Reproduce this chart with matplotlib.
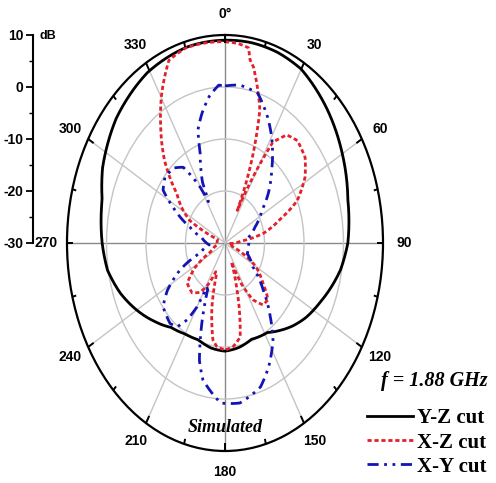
import numpy as np
import matplotlib.pyplot as plt
from matplotlib.ticker import MultipleLocator

# Y-Z cut (black, solid)
yz_theta = [0, 10, 20, 30, 45, 60, 75, 90, 100, 115, 125, 133, 140, 148, 160, 170, 180,
            190, 200, 210, 220, 230, 240, 250, 260, 270, 285, 295, 311, 329, 346, 360]
yz_gain = [9.0, 9.1, 9.0, 8.6, 6.5, 4.3, 2.2, 1.1, -0.3, -3.3, -5.0, -6.6, -8.1, -9.7, -10.3, -9.6, -9.2,
           -9.5, -10.2, -9.8, -8.8, -6.6, -4.2, -1.8, 0.2, 1.1, 2.2, 4.2, 6.5, 8.2, 8.9, 9.0]

# X-Z cut (red, dotted)
xz_theta = [0, 5, 9, 10.2, 12, 19, 23, 25, 26.5, 28, 32, 37, 43, 51, 58, 66, 72, 79, 85, 95, 110,
            120, 128.7, 135, 141, 147, 152, 156, 158, 161.4, 168, 174, 180, 186, 189.3, 195, 200,
            203, 208, 213.8, 221, 231, 238, 245, 260, 275, 290, 296, 302, 308, 316, 324, 331, 338,
            345, 352, 360]
xz_gain = [8.7, 8.5, 8.0, 5.8, 4.6, -2.9, -12.6, -18, -23, -19, -7.2, -4.0, -3.1, -3.9, -6.1, -10, -15.4, -20, -26, -29, -28,
           -21, -17.7, -14.6, -14.7, -17, -21, -26, -24, -20.5, -11.5, -10, -9.4, -10, -11.1, -17.2, -24,
           -24, -21, -18.6, -17.3, -17.7, -21, -26, -28, -28, -28, -20, -17, -14.5, -8, -2.3, 3.0, 7.9,
           8.8, 8.8, 8.7]

# X-Y cut (blue, dash-dot-dot)
xy_theta = [0, 7, 16, 24, 30, 40, 49, 56, 68, 80, 95, 110, 123, 133, 141, 147, 155, 162, 173, 182,
            192, 196, 199, 203, 206, 208.5, 210, 213, 217, 222, 232, 238, 245.5, 253, 265, 280, 289,
            297.7, 303, 310, 318, 324, 329.6, 332, 333, 334, 340, 342.5, 347, 352, 357, 360]
xy_gain = [0.2, 0.6, 0.0, -3.5, -6.4, -11.6, -15.5, -18.7, -21.8, -24, -24, -24, -21.6, -16.8, -11.8, -7.7, -3.8, -0.9, 1.0, 0.8,
           -3.1, -6.5, -11, -16.5, -20, -20.4, -15.8, -12.4, -9.8, -9.2, -10.1, -12.8, -17.5, -23.4, -26, -24, -20.6,
           -15.1, -11.3, -10.2, -10.6, -12, -17.5, -21, -20, -17, -11.6, -7.2, -4.3, -1.5, 0.4, 0.2]

angle_labels = ['0°', '30', '60', '90', '120', '150', '180', '210', '240', '270', '300', '330']
db_ticks = [-30, -20, -10, 0, 10]

red = '#e3202b'
blue = '#1414b4'
grid_c = '#c4c4c4'

fig = plt.figure(figsize=(4.96, 4.83), dpi=100)
W, H = 496, 483
cx, cy, rx, ry = 225, 243, 158, 208

ax = fig.add_axes([(cx - rx) / W, (H - cy - ry) / H, 2 * rx / W, 2 * ry / H], projection='polar')
ax.set_aspect('auto')
ax.set_theta_zero_location('N')
ax.set_theta_direction(-1)
ax.set_rgrids([-20, -10, 0], labels=['', '', ''])
ax.set_thetagrids(range(0, 360, 30), labels=angle_labels,
                  fontsize=10, fontweight='bold', family='Liberation Sans')
ax.tick_params(axis='x', pad=4.5)
ax.grid(True, color=grid_c, linewidth=1.0)
for i, gl in enumerate(ax.xaxis.get_gridlines()):
    if i % 3 == 0:
        gl.set_color('#8a8a8a')
ax.spines['polar'].set_linewidth(1.6)

# tick marks on the outer ring, pointing inward
for t in range(0, 360, 15):
    inner = 8.4 if t % 30 == 0 else 9.0
    ax.plot([np.deg2rad(t)] * 2, [inner, 10], color='black', lw=1.4, solid_capstyle='butt', zorder=3)

curves = [
    (yz_theta, yz_gain, dict(color='black', lw=2.0, label='Y-Z cut')),
    (xz_theta, xz_gain, dict(color=red, lw=2.0, linestyle=(0, (1.5, 1.0)), label='X-Z cut')),
    (xy_theta, xy_gain, dict(color=blue, lw=2.0, linestyle=(0, (4, 2, 1, 2, 1, 2)), label='X-Y cut')),
]
handles = []
for th, g, kw in curves:
    ln, = ax.plot(np.deg2rad(th), g, **kw)
    ln.get_path()._interpolation_steps = 24
    handles.append(ln)

ax.set_rlim(-30, 10)

# separate dB scale on the left
dax = fig.add_axes([33 / W, (H - cy) / H, 0.0001, ry / H])
dax.set_ylim(-30, 10)
dax.set_yticks(db_ticks)
dax.set_yticklabels([str(v) for v in db_ticks], fontsize=10, fontweight='bold', family='Liberation Sans')
dax.yaxis.set_minor_locator(MultipleLocator(5))
dax.tick_params(axis='y', which='major', direction='out', length=5, width=1.3, pad=2)
dax.tick_params(axis='y', which='minor', direction='out', length=3, width=1.0)
dax.set_xticks([])
for s in ['top', 'right', 'bottom']:
    dax.spines[s].set_visible(False)
dax.spines['left'].set_linewidth(1.5)
dax.patch.set_visible(False)
fig.text(40 / W, 1 - 36 / H, 'dB', fontsize=9, fontweight='bold', family='Liberation Sans', va='center')

fig.text(225 / W, 1 - 428 / H, 'Simulated', fontsize=13, fontweight='bold', style='italic',
         family='Liberation Serif', ha='center', va='center')
fig.text(434 / W, 1 - 381 / H, 'f = 1.88 GHz', fontsize=14.5, fontweight='bold', style='italic',
         family='Liberation Serif', ha='center', va='center')

fig.legend(handles=handles, loc='upper right', bbox_to_anchor=(0.997, 1 - 400 / H), frameon=False,
           prop={'family': 'Liberation Serif', 'weight': 'bold', 'size': 15},
           handlelength=2.2, handletextpad=0.2, labelspacing=0.2, borderaxespad=0)

fig.savefig('out.png', dpi=100)
